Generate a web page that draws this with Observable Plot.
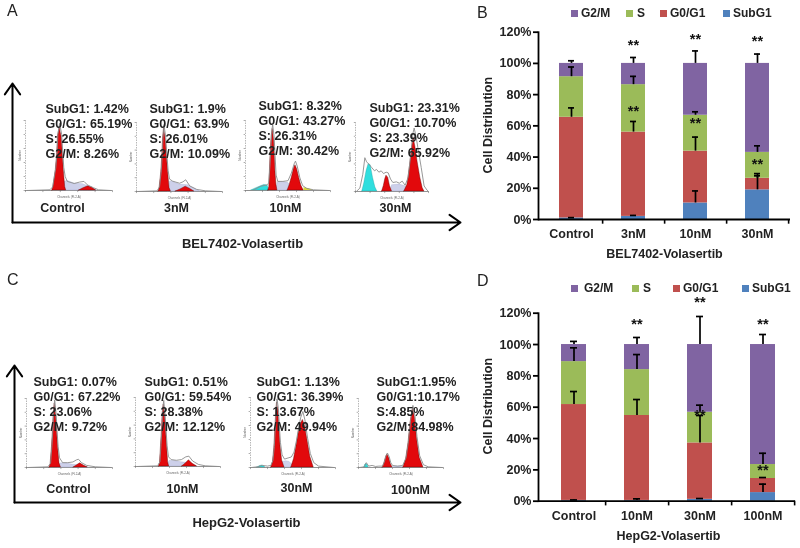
<!DOCTYPE html>
<html>
<head>
<meta charset="utf-8">
<script src="https://cdn.jsdelivr.net/npm/d3@7"></script>
<script src="https://cdn.jsdelivr.net/npm/@observablehq/plot@0.6"></script>
<style>
html,body{margin:0;padding:0;background:#fff;width:800px;height:548px;overflow:hidden}
#page{position:relative;width:800px;height:548px;font-family:"Liberation Sans",Arial,sans-serif;color:#111;filter:blur(0.35px)}
#page svg{position:absolute;overflow:visible;background:transparent}
.tag{position:absolute;font-size:16px;line-height:16px;color:#222}
.lg{position:absolute;font-size:12px;line-height:14px;font-weight:bold;color:#222;white-space:nowrap}
.sw{position:absolute;width:6.5px;height:6.5px}
</style>
</head>
<body>
<div id="page"></div>
<script>
// ---- stacked-bar data (panels B and D) ----
const phases = ["SubG1", "G0/G1", "S", "G2/M"];
const phaseColors = ["#4F81BD", "#C0504D", "#9BBB59", "#8064A2"];

const catsB = ["Control", "3nM", "10nM", "30nM"];
const subB = [1, 2, 10.6, 19];
const g1B = [64.5, 54, 33.2, 7.4];
const sB = [26, 30.4, 23, 16.6];
const g2B = [8.5, 13.6, 33.2, 57];
const errSubB = [1.2, 2.6, 18.3, 28];
const errG1B = [71.5, 62.8, 52.8, 29.4];
const errSB = [97.7, 91.7, 69, 47.2];
const errG2B = [101.7, 103.8, 108, 106];
const starsB = [["3nM", 112], ["3nM", 69.8], ["10nM", 116], ["10nM", 62.3], ["30nM", 115], ["30nM", 36.2]];

const catsD = ["Control", "10nM", "30nM", "100nM"];
const subD = [0.5, 0.5, 1.2, 5.5];
const g1D = [61.2, 54.2, 36, 9];
const sD = [27.4, 29.3, 19.6, 8.9];
const g2D = [10.9, 16, 43.2, 76.6];
const errSubD = [0.8, 1.5, 1.7, 10.9];
const errG1D = [70, 64.9, 54.7, 15.1];
const errSD = [97.9, 93.6, 61.3, 30.6];
const errG2D = [102, 104.5, 117.9, 106.4];
const starsD = [["10nM", 113.8], ["30nM", 127.7], ["30nM", 55.3], ["100nM", 113.8], ["100nM", 20.2]];

// ---- flow-cytometry histograms, read as [channel, count] ----
const a1g1 = [[77,0],[80,5],[87,29],[91,52],[93,76],[98,90],[104,76],[107,52],[110,29],[114,5],[117,0]];
const a1s = [[108,0],[112,12],[120,14],[140,10],[165,9],[185,5],[205,0]];
const a1g2 = [[154,0],[165,3],[180,6],[192,4],[203,0]];
const a1env = [[5,0],[70,1],[78,5],[87,32],[91,55],[93,80],[98,96],[104,80],[107,55],[110,33],[114,20],[120,13],[140,10],[155,12],[168,13],[178,8],[195,4],[210,1],[245,0]];

const a2g1 = [[64,0],[67,5],[72,28],[75,52],[77,75],[80,92],[85,75],[88,52],[92,28],[96,5],[100,0]];
const a2s = [[92,0],[97,14],[105,14],[125,10],[150,9],[170,4],[185,0]];
const a2g2 = [[114,0],[128,3],[143,7],[155,4],[168,0]];
const a2env = [[5,0],[60,1],[67,7],[72,30],[75,55],[77,78],[80,97],[85,78],[88,55],[92,30],[96,18],[105,15],[125,12],[135,14],[143,17],[155,8],[175,3],[200,1],[245,0]];

const a3g1 = [[67,0],[70,5],[72,30],[74,55],[77,78],[80,88],[84,72],[86,50],[88,28],[91,8],[94,0]];
const a3s = [[90,0],[95,12],[110,12],[125,11],[135,6],[150,3],[170,0]];
const a3g2 = [[124,0],[130,8],[137,20],[143,32],[147,36],[152,30],[158,18],[164,7],[171,0]];
const a3sub = [[17,0],[30,3],[45,6],[55,8],[65,7],[70,0]];
const a3deb = [[172,0],[172,4],[185,3],[200,0]];
const a3env = [[5,0],[20,0],[45,6],[62,8],[68,10],[72,35],[75,65],[78,88],[80,94],[84,78],[87,50],[90,22],[95,13],[110,13],[125,14],[135,25],[143,38],[147,42],[152,35],[160,18],[168,7],[180,3],[200,1],[245,0]];

const a4g1 = [[91,0],[97,8],[102,18],[106,23],[112,20],[118,8],[125,0]];
const a4s = [[120,0],[125,9],[150,10],[168,8],[180,4],[190,0]];
const a4g2 = [[167,0],[178,10],[187,38],[193,62],[199,78],[205,65],[213,42],[222,20],[230,5],[236,0]];
const a4sub = [[23,0],[30,12],[38,30],[45,40],[52,38],[60,20],[68,6],[75,0]];
const a4env = [[3,0],[15,5],[25,25],[32,49],[38,43],[45,40],[55,35],[65,30],[72,32],[80,28],[88,30],[96,26],[105,28],[112,27],[120,18],[128,13],[140,14],[150,12],[160,15],[170,9],[180,20],[190,55],[197,85],[201,92],[208,78],[215,60],[225,35],[235,8],[245,2],[250,0]];

const c1g1 = [[67,0],[70,5],[74,30],[77,55],[79,78],[82,93],[86,75],[89,50],[92,28],[96,6],[100,0]];
const c1s = [[92,0],[100,6],[115,6],[135,4],[160,3],[180,0]];
const c1g2 = [[137,0],[146,3],[156,6],[166,3],[178,0]];
const c1env = [[5,0],[62,1],[70,6],[74,32],[77,58],[79,80],[82,98],[86,78],[89,52],[92,30],[96,14],[105,7],[120,7],[135,8],[145,11],[151,12],[160,7],[175,3],[200,1],[245,0]];

const c2g1 = [[69,0],[72,5],[75,30],[78,55],[80,78],[83,90],[87,72],[90,50],[93,28],[96,6],[99,0]];
const c2s = [[93,0],[100,8],[115,8],[135,6],[160,5],[180,0]];
const c2g2 = [[137,0],[147,4],[157,9],[168,4],[181,0]];
const c2env = [[5,0],[65,1],[72,7],[75,32],[78,58],[80,80],[83,96],[87,75],[90,52],[93,30],[97,14],[105,10],[120,9],[135,10],[148,14],[157,15],[168,8],[185,3],[205,1],[245,0]];

const c3g1 = [[61,0],[66,8],[70,28],[73,55],[76,82],[78,93],[82,80],[85,55],[88,32],[93,10],[100,0]];
const c3s = [[85,0],[95,8],[105,9],[115,8],[125,3],[140,0]];
const c3g2 = [[120,0],[128,12],[135,30],[142,50],[148,62],[154,68],[160,60],[168,38],[176,15],[186,0]];
const c3sub = [[20,0],[28,2],[35,3],[44,0]];
const c3env = [[3,0],[20,1],[35,3],[50,2],[60,3],[66,10],[70,30],[73,58],[76,85],[78,98],[82,84],[85,58],[88,36],[93,18],[100,12],[113,14],[120,15],[128,22],[135,38],[142,58],[148,72],[154,80],[160,68],[168,42],[176,20],[186,7],[200,2],[245,0]];

const c4g1 = [[71,0],[76,6],[81,15],[85,19],[90,14],[95,5],[100,0]];
const c4s = [[100,0],[110,1.5],[125,1.5],[132,0]];
const c4g2 = [[132,0],[140,12],[147,35],[153,65],[160,85],[166,72],[172,42],[180,14],[191,0]];
const c4sub = [[17,0],[20,4],[23,5.5],[26,4],[30,0]];
const c4env = [[3,0],[17,1],[23,7],[30,2],[40,3],[50,1.5],[60,2],[71,2],[76,8],[81,17],[85,21],[90,16],[95,7],[100,3],[115,2],[130,3],[140,14],[147,38],[153,68],[160,90],[166,75],[172,45],[180,17],[191,4],[205,1],[245,0]];

const statsA1 = "SubG1: 1.42%\nG0/G1: 65.19%\nS: 26.55%\nG2/M: 8.26%";
const statsA2 = "SubG1: 1.9%\nG0/G1: 63.9%\nS: 26.01%\nG2/M: 10.09%";
const statsA3 = "SubG1: 8.32%\nG0/G1: 43.27%\nS: 26.31%\nG2/M: 30.42%";
const statsA4 = "SubG1: 23.31%\nG0/G1: 10.70%\nS: 23.39%\nG2/M: 65.92%";
const statsC1 = "SubG1: 0.07%\nG0/G1: 67.22%\nS: 23.06%\nG2/M: 9.72%";
const statsC2 = "SubG1: 0.51%\nG0/G1: 59.54%\nS: 28.38%\nG2/M: 12.12%";
const statsC3 = "SubG1: 1.13%\nG0/G1: 36.39%\nS: 13.67%\nG2/M: 49.94%";
const statsC4 = "SubG1:1.95%\nG0/G1:10.17%\nS:4.85%\nG2/M:84.98%";

const page = document.getElementById("page");
const FONT = '"Liberation Sans",Arial,sans-serif';
const place = (svg, left, top) => { svg.style.left = left + "px"; svg.style.top = top + "px"; page.appendChild(svg); };
const div = (cls, txt, left, top, extra) => {
  const e = document.createElement("div"); e.className = cls; e.textContent = txt;
  e.style.left = left + "px"; e.style.top = top + "px"; if (extra) e.style.background = extra; page.appendChild(e);
};

// ---- histogram panels ----
function hist(p) {
  const area = (d, fill, extra = {}) => d ? Plot.areaY(d, {x: v => v[0], y: v => v[1], fill, ...extra}) : null;
  const svg = Plot.plot({
    width: p.w, height: p.h, margin: 0,
    x: {domain: [0, 250], axis: null}, y: {domain: [0, 100], axis: null},
    style: {fontFamily: FONT, overflow: "visible", background: "transparent"},
    marks: [
      Plot.ruleY([0], {stroke: "#666", strokeWidth: 0.7}),
      Plot.ruleX([0], {stroke: "#888", strokeWidth: 0.6, strokeDasharray: "1.5,1"}),
      Plot.ruleX([0, 50, 100, 150, 200, 250], {x: d => d, y1: 0, y2: -3, stroke: "#777", strokeWidth: 0.6}),
      Plot.ruleY([0, 20, 40, 60, 80, 100], {y: d => d, x1: -4, x2: 0, stroke: "#777", strokeWidth: 0.6}),
      Plot.text(["Channels (FL2-A)"], {text: d => d, frameAnchor: "bottom", lineAnchor: "middle", dy: 7, fontSize: 3, fill: "#666"}),
      Plot.text(["Number"], {text: d => d, frameAnchor: "left", rotate: -90, textAnchor: "middle", lineAnchor: "middle", dx: -5, fontSize: 3, fill: "#666"}),
      area(p.sub, "#2fdede", {stroke: "#1a8a8a", strokeWidth: 0.3}),
      area(p.deb, "#d8d83a"),
      area(p.s, "#cdd0ea", {stroke: "#9aa0c8", strokeWidth: 0.3}),
      area(p.g1, "#e2090c", {stroke: "#5a0000", strokeWidth: 0.4}),
      area(p.g2, "#e2090c", {stroke: "#5a0000", strokeWidth: 0.4}),
      Plot.line(p.env, {x: v => v[0], y: v => v[1], stroke: "#8c8c8c", strokeWidth: 0.9}),
      Plot.text([p.stats], {text: d => d, frameAnchor: "top-left", textAnchor: "start", lineAnchor: "top",
        dx: p.tx, dy: p.ty, fontSize: 12.5, fontWeight: "bold", fill: "#222", lineHeight: 1.2}),
      Plot.text([p.label], {text: d => d, frameAnchor: "top-left", textAnchor: "middle", lineAnchor: "middle",
        dx: p.lx, dy: p.ly, fontSize: 12.5, fontWeight: "bold", fill: "#222"})
    ].filter(Boolean)
  });
  place(svg, p.left, p.top);
}

// ---- schematic dose arrows with the cell-line title ----
function doseAxes(left, top, w, h, title, tdx, tdy) {
  const svg = Plot.plot({
    width: w, height: h, margin: 0,
    x: {domain: [0, 1], axis: null}, y: {domain: [0, 1], axis: null},
    style: {fontFamily: FONT, overflow: "visible", background: "transparent"},
    marks: [
      Plot.arrow([{x1: 0, y1: 0, x2: 1, y2: 0}, {x1: 0, y1: 0, x2: 0, y2: 1}],
        {x1: "x1", y1: "y1", x2: "x2", y2: "y2", stroke: "#000", strokeWidth: 2, headLength: 10, headAngle: 70}),
      Plot.text([title], {text: d => d, frameAnchor: "top-left", textAnchor: "middle", lineAnchor: "middle",
        dx: tdx, dy: tdy, fontSize: 13, fontWeight: "bold", fill: "#222"})
    ]
  });
  place(svg, left, top);
}

// ---- stacked bar panels ----
function stacked(o) {
  const series = [o.sub, o.g1, o.s, o.g2];
  const rows = [];
  series.forEach((vals, k) => vals.forEach((v, i) => rows.push({cat: o.cats[i], phase: phases[k], v})));
  const errs = [];
  [o.errSub, o.errG1, o.errS, o.errG2].forEach((vals, k) => vals.forEach((e, i) => {
    const base = d3.sum(series.slice(0, k + 1), s => s[i]);
    errs.push({cat: o.cats[i], base, e});
  }));
  const svg = Plot.plot({
    width: o.width, height: o.height,
    marginLeft: o.ml, marginRight: o.mr, marginTop: o.mt, marginBottom: o.mb,
    x: {domain: o.cats, range: o.xr, paddingInner: 0.605, paddingOuter: 0.3025, axis: null},
    y: {domain: [0, 120], axis: null},
    color: {domain: phases, range: phaseColors},
    style: {fontFamily: FONT, overflow: "visible", background: "transparent"},
    marks: [
      Plot.barY(rows, {x: "cat", y: "v", fill: "phase", order: phases}),
      Plot.ruleX(errs, {x: "cat", y1: "base", y2: "e", stroke: "#000", strokeWidth: 1.7}),
      Plot.tickY(errs, {x: "cat", y: "e", stroke: "#000", strokeWidth: 1.7, insetLeft: 9, insetRight: 9}),
      Plot.frame({anchor: "left", stroke: "#000", strokeWidth: 1.8}),
      Plot.axisY({ticks: [0, 20, 40, 60, 80, 100, 120], tickFormat: d => d + "%", tickSize: 5, tickPadding: 2,
        stroke: "#000", strokeWidth: 1.8, fontSize: 12.5, fontWeight: "bold", fill: "#222", label: null}),
      Plot.ruleY([0], {stroke: "#000", strokeWidth: 1.8}),
      Plot.text(o.cats, {x: d => d, frameAnchor: "bottom", lineAnchor: "middle", dy: o.catDy, text: d => d,
        fontSize: 12.5, fontWeight: "bold", fill: "#222"}),
      Plot.ruleX(o.cats, {x: d => d, y1: 0, y2: -3, dx: o.step / 2, stroke: "#000", strokeWidth: 1.6}),
      Plot.text(o.stars, {x: d => d[0], y: d => d[1], text: () => "**", fontSize: 14.5, fontWeight: "bold", fill: "#111", lineAnchor: "middle", dy: 1}),
      Plot.text([o.title], {text: d => d, frameAnchor: "top-left", textAnchor: "middle", lineAnchor: "middle",
        dx: o.tx, dy: o.ty, fontSize: 12.5, fontWeight: "bold", fill: "#222"}),
      Plot.text(["Cell Distribution"], {text: d => d, frameAnchor: "top-left", rotate: -90, textAnchor: "middle", lineAnchor: "middle",
        dx: o.yx, dy: o.yy, fontSize: 12.5, fontWeight: "bold", fill: "#222"})
    ]
  });
  place(svg, o.left, o.top);
}

// panel A
doseAxes(12, 83, 448, 139, "BEL7402-Volasertib", 230, 160);
hist({left:25,top:120,w:87,h:70,g1:a1g1,s:a1s,g2:a1g2,env:a1env,stats:statsA1,label:"Control",tx:20,ty:-18,lx:37,ly:87});
hist({left:136,top:122,w:86,h:69,g1:a2g1,s:a2s,g2:a2g2,env:a2env,stats:statsA2,label:"3nM",tx:13,ty:-20,lx:40,ly:85});
hist({left:245,top:120,w:85,h:70,g1:a3g1,s:a3s,g2:a3g2,sub:a3sub,deb:a3deb,env:a3env,stats:statsA3,label:"10nM",tx:13,ty:-21,lx:40,ly:87});
hist({left:355,top:122,w:73,h:69,g1:a4g1,s:a4s,g2:a4g2,sub:a4sub,env:a4env,stats:statsA4,label:"30nM",tx:14,ty:-21,lx:40,ly:85});
// panel C
doseAxes(14, 365, 446, 137, "HepG2-Volasertib", 232, 157);
hist({left:26,top:398,w:86,h:69,g1:c1g1,s:c1s,g2:c1g2,env:c1env,stats:statsC1,label:"Control",tx:7,ty:-23,lx:42,ly:90});
hist({left:135,top:397,w:85,h:69,g1:c2g1,s:c2s,g2:c2g2,env:c2env,stats:statsC2,label:"10nM",tx:9,ty:-22,lx:47,ly:91});
hist({left:250,top:397,w:85,h:70,g1:c3g1,s:c3s,g2:c3g2,sub:c3sub,env:c3env,stats:statsC3,label:"30nM",tx:6,ty:-22,lx:46,ly:90});
hist({left:358,top:398,w:85,h:69,g1:c4g1,s:c4s,g2:c4g2,sub:c4sub,env:c4env,stats:statsC4,label:"100nM",tx:18,ty:-23,lx:52,ly:91});

// panel B
stacked({left:470,top:0,width:330,height:270,ml:68,mr:10,mt:31.7,mb:51,xr:[70,319],step:62.25,
  cats:catsB,sub:subB,g1:g1B,s:sB,g2:g2B,errSub:errSubB,errG1:errG1B,errS:errSB,errG2:errG2B,stars:starsB,
  title:"BEL7402-Volasertib",tx:126,ty:222,yx:-51,yy:93,catDy:14.5});
// panel D
stacked({left:470,top:270,width:330,height:278,ml:68,mr:5,mt:42.7,mb:47.3,xr:[71,324],step:63.25,
  cats:catsD,sub:subD,g1:g1D,s:sD,g2:g2D,errSub:errSubD,errG1:errG1D,errS:errSD,errG2:errG2D,stars:starsD,
  title:"HepG2-Volasertib",tx:130,ty:223,yx:-51,yy:93,catDy:15});

// tags
div("tag", "A", 7, 3); div("tag", "B", 477, 5); div("tag", "C", 7, 272); div("tag", "D", 477, 273);
// legends
[[571,581,"G2/M",3],[626,637,"S",2],[660,670,"G0/G1",1],[723,733,"SubG1",0]].forEach(([a,b,t,k]) => {
  div("sw","",a,10,phaseColors[k]); div("lg",t,b,6);
});
[[571,584,"G2/M",3],[632,643,"S",2],[673,683,"G0/G1",1],[742,752,"SubG1",0]].forEach(([a,b,t,k]) => {
  div("sw","",a,285,phaseColors[k]); div("lg",t,b,281);
});
</script>
</body>
</html>
